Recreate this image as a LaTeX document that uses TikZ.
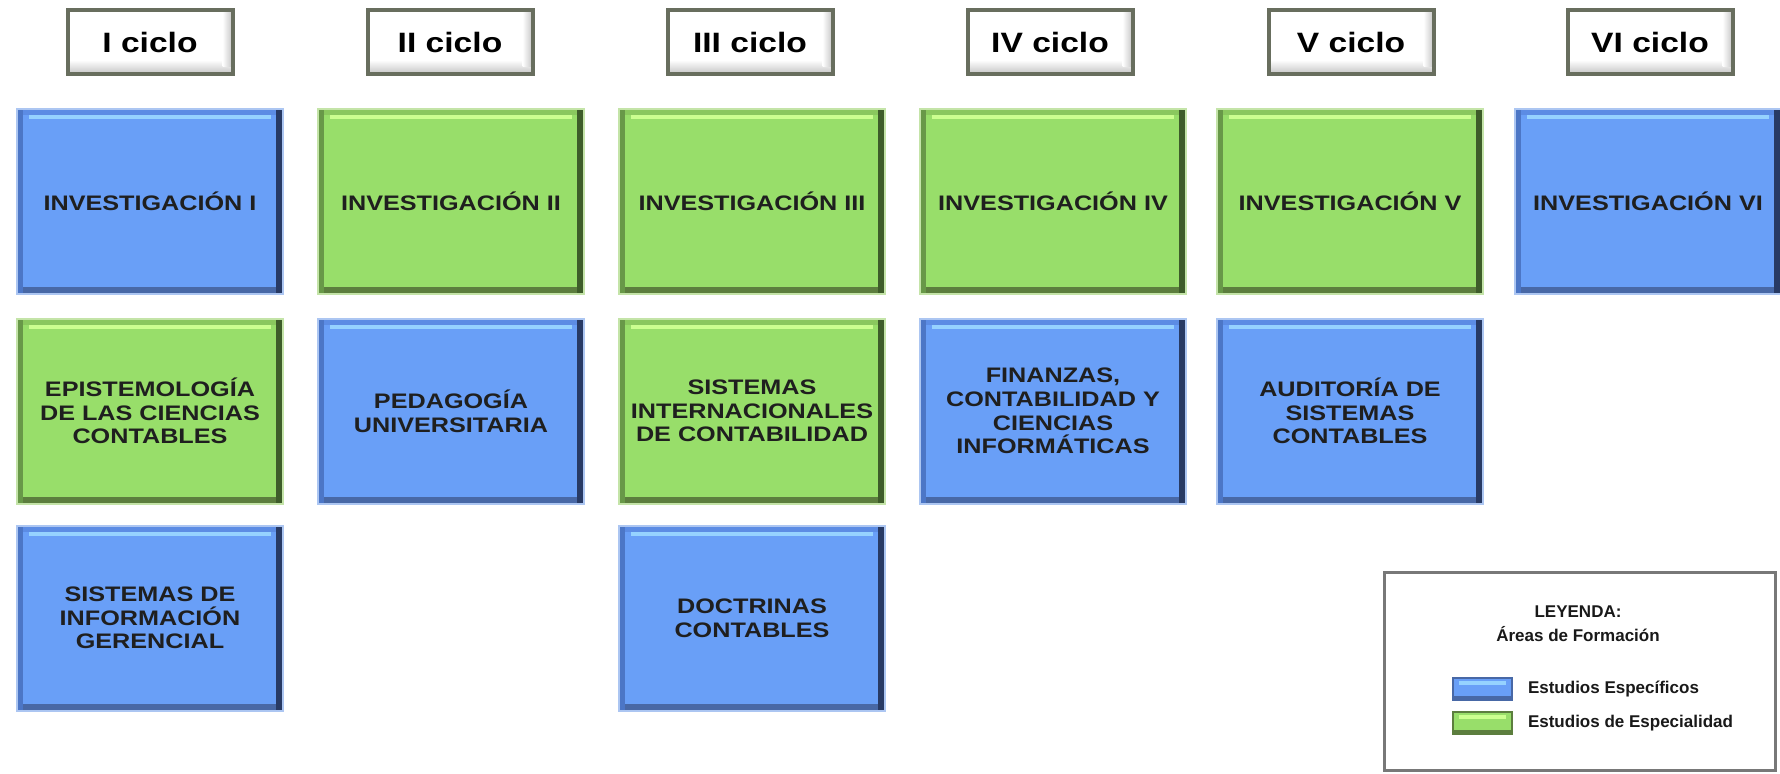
\documentclass[tikz,border=0pt]{standalone}
\usepackage{fontspec}
\usepackage{tikz}
\usetikzlibrary{positioning}

\newfontfamily\boxfont[FakeStretch=1.2]{Liberation Sans}
\newfontfamily\legfont{Liberation Sans}

\definecolor{blueFill}{RGB}{105,159,247}
\definecolor{blueRim}{RGB}{172,198,242}
\definecolor{blueLeft}{RGB}{76,118,198}
\definecolor{blueTop}{RGB}{92,140,228}
\definecolor{blueHi}{RGB}{150,210,255}
\definecolor{blueRight}{RGB}{40,58,100}
\definecolor{blueBot}{RGB}{72,104,166}
\definecolor{greenFill}{RGB}{152,222,106}
\definecolor{greenRim}{RGB}{196,228,168}
\definecolor{greenLeft}{RGB}{104,152,72}
\definecolor{greenTop}{RGB}{138,200,94}
\definecolor{greenHi}{RGB}{204,255,144}
\definecolor{greenRight}{RGB}{62,92,42}
\definecolor{greenBot}{RGB}{92,126,62}
\definecolor{hdrRim}{RGB}{104,110,94}
\definecolor{hdrShade}{RGB}{196,196,196}
\definecolor{legRim}{RGB}{120,120,120}

\begin{document}
\begin{tikzpicture}[x=0.5pt,y=-0.5pt]
	\tikzset{
		block/.style={fill=#1Fill, draw=#1Rim, line width=1pt, minimum width=133pt, minimum height=92.5pt,
			align=center, text=black!88, font=\boxfont\bfseries\fontsize{10.5}{11.8}\selectfont,
			path picture={
				\coordinate (pa) at (path picture bounding box.south west);
				\coordinate (pb) at (path picture bounding box.north east);
				\fill[#1Bot] (pa) rectangle ([yshift=3.5pt]pb |- pa);
				\fill[#1Left] (pa) rectangle ([xshift=3pt]pa |- pb);
				\fill[#1Top] ([xshift=3pt]pa |- pb) rectangle ([yshift=-3pt]pb);
				\fill[#1Hi] ([xshift=6pt,yshift=-3pt]pa |- pb) rectangle ([xshift=-6pt,yshift=-5pt]pb);
				\fill[#1Right] ([xshift=-3.5pt]pb |- pa) rectangle (pb);
			}},
		cyclebox/.style={fill=white, draw=hdrRim, line width=2pt, minimum width=82.5pt, minimum height=32pt,
			text=black, font=\boxfont\bfseries\fontsize{14}{16}\selectfont,
			path picture={
				\coordinate (pa) at (path picture bounding box.south west);
				\coordinate (pb) at (path picture bounding box.north east);
				\shade[top color=white, bottom color=hdrShade] ([yshift=7pt]pa) rectangle (pb |- pa);
				\shade[left color=white, right color=hdrShade] ([xshift=-5pt]pb) rectangle ([yshift=4pt]pb |- pa);
			}},
		swatch/.style={fill=#1Fill, draw=#1Bot, line width=0.6pt, minimum width=29.5pt, minimum height=11pt, inner sep=0pt,
			path picture={
				\coordinate (pa) at (path picture bounding box.south west);
				\coordinate (pb) at (path picture bounding box.north east);
				\fill[#1Bot] (pa) rectangle ([yshift=2pt]pb |- pa);
				\fill[#1Hi] ([xshift=3pt,yshift=-1.5pt]pa |- pb) rectangle ([xshift=-3pt,yshift=-3.5pt]pb);
			}},
		legendbox/.style={fill=white, draw=legRim, line width=1.5pt, minimum width=195.5pt, minimum height=99pt},
		legtext/.style={inner sep=0pt, text=black!90, font=\legfont\bfseries\fontsize{8.5}{10}\selectfont}
	}
	\useasboundingbox (0,0) rectangle (1780,773);

	% ciclos
	\node[cyclebox] (ciclo1) at (150,42) {I ciclo};
	\node[cyclebox] (ciclo2) at (450,42) {II ciclo};
	\node[cyclebox] (ciclo3) at (750,42) {III ciclo};
	\node[cyclebox] (ciclo4) at (1050,42) {IV ciclo};
	\node[cyclebox] (ciclo5) at (1351,42) {V ciclo};
	\node[cyclebox] (ciclo6) at (1650,42) {VI ciclo};

	% primera fila
	\node[block=blue] (inv1) at (150,201) {INVESTIGACIÓN I};
	\node[block=green] (inv2) at (451,201) {INVESTIGACIÓN II};
	\node[block=green] (inv3) at (752,201) {INVESTIGACIÓN III};
	\node[block=green] (inv4) at (1053,201) {INVESTIGACIÓN IV};
	\node[block=green] (inv5) at (1350,201) {INVESTIGACIÓN V};
	\node[block=blue] (inv6) at (1648,201) {INVESTIGACIÓN VI};

	% segunda fila
	\node[block=green] (epist) at (150,411) {EPISTEMOLOGÍA\\DE LAS CIENCIAS\\CONTABLES};
	\node[block=blue] (pedag) at (451,411) {PEDAGOGÍA\\UNIVERSITARIA};
	\node[block=green] (sistint) at (752,411) {SISTEMAS\\INTERNACIONALES\\DE CONTABILIDAD};
	\node[block=blue] (finanz) at (1053,411) {FINANZAS,\\CONTABILIDAD Y\\CIENCIAS\\INFORMÁTICAS};
	\node[block=blue] (audit) at (1350,411) {AUDITORÍA DE\\SISTEMAS\\CONTABLES};

	% tercera fila
	\node[block=blue] (sisinf) at (150,618) {SISTEMAS DE\\INFORMACIÓN\\GERENCIAL};
	\node[block=blue] (doctr) at (752,618) {DOCTRINAS\\CONTABLES};

	% leyenda
	\node[legendbox] (leyenda) at (1580,671) {};
	\node[legtext] (leytit) at (1578,612) {LEYENDA:};
	\node[legtext] (areas) at (1578,634) {Áreas de Formación};
	\node[swatch=blue] (swesp) at (1482.5,689) {};
	\node[swatch=green] (swspc) at (1482.5,723) {};
	\node[legtext, right=7.5pt of swesp] (esp) {Estudios Específicos};
	\node[legtext, right=7.5pt of swspc] (spc) {Estudios de Especialidad};
\end{tikzpicture}
\end{document}
